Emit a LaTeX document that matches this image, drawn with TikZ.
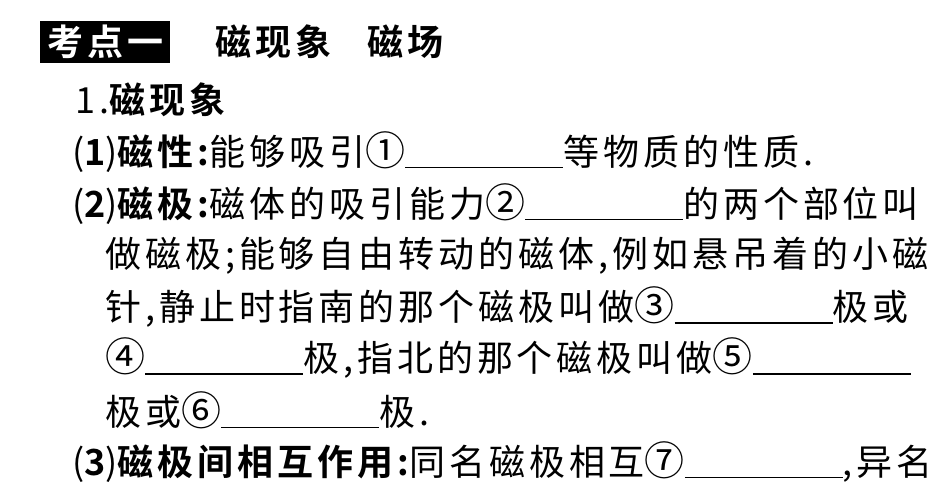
\documentclass[tikz,border=0pt]{standalone}
\usepackage{fontspec}
\newfontfamily\cjk[LetterSpace=11]{Noto Sans CJK SC}
\newfontfamily\cjkb[LetterSpace=11]{Noto Sans CJK SC Bold}
\newcommand{\bl}[1]{{\fontsize{40}{40}\selectfont #1}\rule[-3pt]{158pt}{1.3pt}}
\begin{document}
\begin{tikzpicture}[x=1pt,y=-1pt,line/.style={anchor=west,inner sep=0pt,font=\fontsize{36}{36}\cjk}]
\useasboundingbox (0,0) rectangle (950,493);
\clip (0,0) rectangle (950,493);
\node[fill=black,text=white,anchor=west,inner sep=2pt,minimum width=130pt,minimum height=42pt,font=\fontsize{36}{36}\cjkb] (h) at (40,42) {考点一};
\node[line,font=\fontsize{36}{36}\cjkb] (t) at (215,42) {磁现象\hspace{1em}磁场};
\node[line] (l1) at (75,100) {1.{\cjkb 磁现象}};
\node[line] (l2) at (72,152) {({\cjkb 1}){\cjkb 磁性:}能够吸引\bl{①}等物质的性质.};
\node[line] (l3) at (72,204) {({\cjkb 2}){\cjkb 磁极:}磁体的吸引能力\bl{②}的两个部位叫};
\node[line] (l4) at (105,256) {做磁极;能够自由转动的磁体,例如悬吊着的小磁};
\node[line] (l5) at (105,307) {针,静止时指南的那个磁极叫做\bl{③}极或};
\node[line] (l6) at (105,358) {\bl{④}极,指北的那个磁极叫做\bl{⑤}};
\node[line] (l7) at (105,410) {极或\bl{⑥}极.};
\node[line] (l8) at (72,462) {({\cjkb 3}){\cjkb 磁极间相互作用:}同名磁极相互\bl{⑦},异名};
\end{tikzpicture}
\end{document}
